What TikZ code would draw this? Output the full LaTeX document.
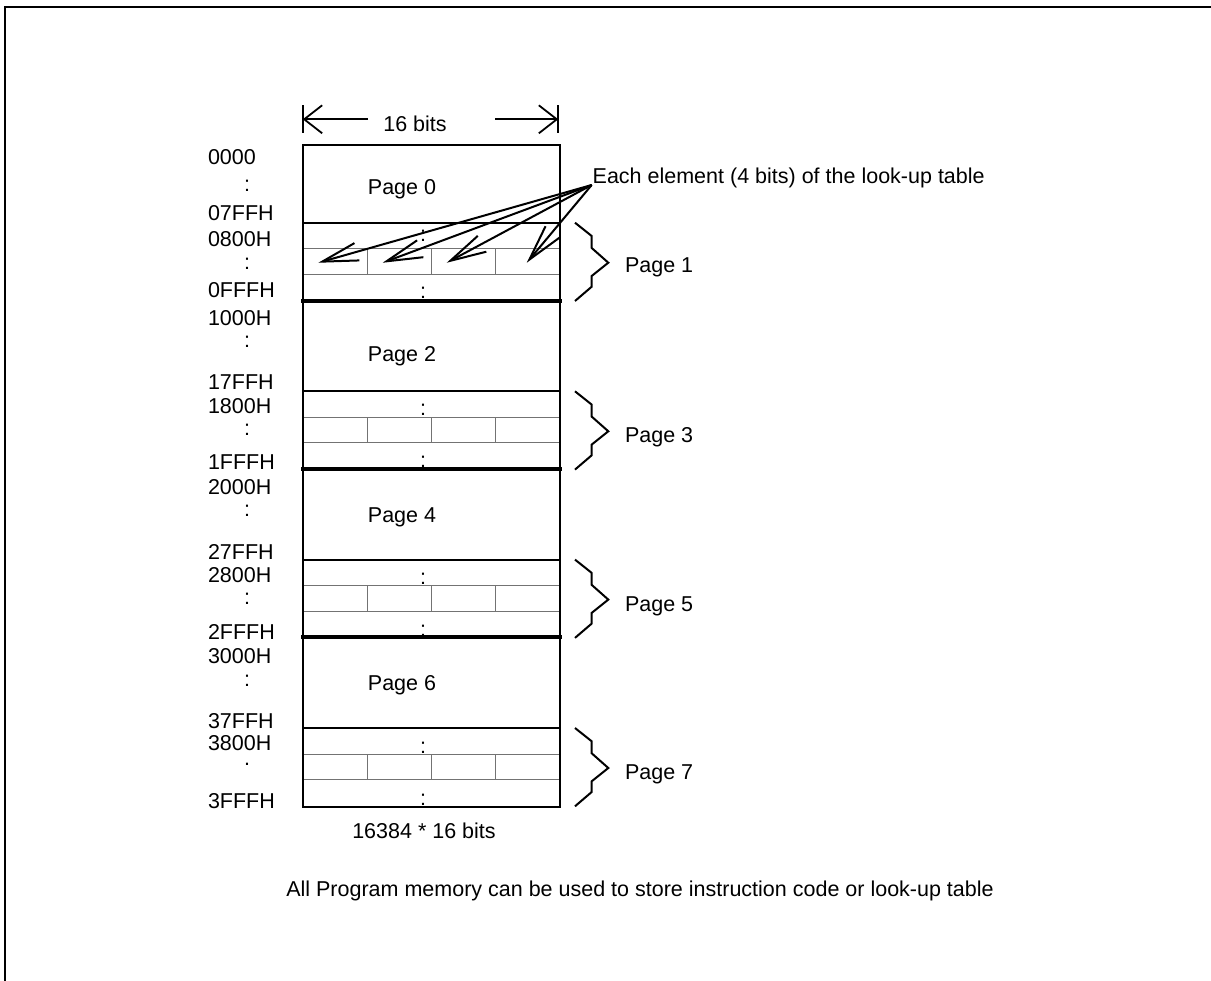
\documentclass[tikz,border=0pt]{standalone}
\usepackage{fontspec}
\setmainfont{Liberation Sans}
\usetikzlibrary{arrows.meta,calc}
\begin{document}
\begin{tikzpicture}[x=1pt,y=-1pt,
  txt/.style={font=\fontsize{21.5}{25}\selectfont, inner sep=0pt, outer sep=0pt},
  addr/.style={txt, anchor=base west},
  ctr/.style={txt, anchor=base},
  frameline/.style={line width=2pt},
  pagebox/.style={draw, line width=2pt, minimum width=257pt, anchor=north west, inner sep=0pt, outer sep=0pt},
  cell/.style={draw=black!55, line width=1pt, minimum width=64.25pt, minimum height=25.7pt, anchor=north west, inner sep=0pt, outer sep=0pt},
  heavy/.style={line width=4pt, line cap=rect},
  bar/.style={line width=2pt},
  bracepath/.style={line width=2pt, line join=miter},
  elemarrow/.style={line width=2pt, -{Straight Barb[length=36pt,width=18pt]}},
  dimarrow/.style={line width=1.8pt, -{Straight Barb[length=18pt,width=28pt]}}
]
\useasboundingbox (0,0) rectangle (1211,981);
\draw[frameline] (5,981) -- (5,6.7) -- (1211,6.7);

% element cells
\foreach \n/\t in {1/248.7, 3/417.3, 5/585.5, 7/754} {
  \foreach \k in {1,2,3,4} {
    \node[cell] (e\n\k) at ({303+(\k-1)*64.25},\t) {};
  }
}

% pages
\node[pagebox, minimum height=77.7pt] (p0) at (303,145) {};
\node[pagebox, minimum height=78pt]   (p1) at (303,222.7) {};
\node[pagebox, minimum height=90.6pt] (p2) at (303,300.7) {};
\node[pagebox, minimum height=77.7pt] (p3) at (303,391.3) {};
\node[pagebox, minimum height=90.6pt] (p4) at (303,469) {};
\node[pagebox, minimum height=77.7pt] (p5) at (303,559.6) {};
\node[pagebox, minimum height=90.7pt] (p6) at (303,637.3) {};
\node[pagebox, minimum height=78.7pt] (p7) at (303,728) {};

\draw[heavy] (p1.south west) -- (p1.south east);
\draw[heavy] (p3.south west) -- (p3.south east);
\draw[heavy] (p5.south west) -- (p5.south east);

% page labels in box
\node[ctr] (l0) at (402,195) {Page 0};
\node[ctr] (l2) at (402,362) {Page 2};
\node[ctr] (l4) at (402,522) {Page 4};
\node[ctr] (l6) at (402,690) {Page 6};

% dots in odd pages
\node[ctr] (d1a) at (423,242) {:};
\node[ctr] (d1b) at (423,299) {:};
\node[ctr] (d3a) at (423,416) {:};
\node[ctr] (d3b) at (423,468) {:};
\node[ctr] (d5a) at (423,584.5) {:};
\node[ctr] (d5b) at (423,636) {:};
\node[ctr] (d7a) at (423,753) {:};
\node[ctr] (d7b) at (423,805) {:};

% address labels
\node[addr] (a00) at (208,165) {0000};
\node[ctr]  (a01) at (247,192) {:};
\node[addr] (a02) at (208,221) {07FFH};
\node[addr] (a10) at (208,247) {0800H};
\node[ctr]  (a11) at (247,270) {:};
\node[addr] (a12) at (208,298) {0FFFH};
\node[addr] (a20) at (208,326) {1000H};
\node[ctr]  (a21) at (247,348) {:};
\node[addr] (a22) at (208,389.5) {17FFH};
\node[addr] (a30) at (208,413.5) {1800H};
\node[ctr]  (a31) at (247,435.5) {:};
\node[addr] (a32) at (208,470) {1FFFH};
\node[addr] (a40) at (208,495) {2000H};
\node[ctr]  (a41) at (247,517) {:};
\node[addr] (a42) at (208,559) {27FFH};
\node[addr] (a50) at (208,582) {2800H};
\node[ctr]  (a51) at (247,604.5) {:};
\node[addr] (a52) at (208,639) {2FFFH};
\node[addr] (a60) at (208,663) {3000H};
\node[ctr]  (a61) at (247,686) {:};
\node[addr] (a62) at (208,728) {37FFH};
\node[addr] (a70) at (208,750) {3800H};
\node[ctr]  (a71) at (247,765) {.};
\node[addr] (a72) at (208,808) {3FFFH};

% braces and right labels
\foreach \n/\lb in {1/273, 3/443, 5/611, 7/779} {
  \draw[bracepath] ([xshift=15pt]p\n.north east) -- ++(16.7,13.3) -- ++(0,12) -- ++(16.6,14.7) -- ++(-16.6,13.3) -- ++(0,10.7) -- ++(-16.7,14.3);
  \node[addr] (r\n) at (625,\lb) {Page \n};
}

% width dimension
\coordinate (dl) at (302.7,119.3);
\coordinate (dr) at (558.3,119.3);
\coordinate (dls) at (368,119.3);
\coordinate (drs) at (495,119.3);
\node[ctr] (w) at (415,132) {16 bits};
\draw[dimarrow] (dls) -- (dl);
\draw[dimarrow] (drs) -- (dr);
\draw[bar] (dl) ++(0,-14) -- ++(0,28);
\draw[bar] (dr) ++(0,-14) -- ++(0,28);

% look-up table element label and arrows
\node[addr] (lbl) at (592.7,183.3) {Each element (4 bits) of the look-up table};
\coordinate (src) at (591.7,185);
\draw[elemarrow] (src) -- ($(e11.west)+(15.3,1.2)$);
\draw[elemarrow] (src) -- ($(e12.west)+(15.4,1.2)$);
\draw[elemarrow] (src) -- ($(e13.west)+(15.2,1.2)$);
\draw[elemarrow] (src) -- ($(e14.west)+(31,1.2)$);

% bottom captions
\node[ctr] (cap1) at (424,838.3) {16384 * 16 bits};
\node[ctr] (cap2) at (640,896.5) {All Program memory can be used to store instruction code or look-up table};
\end{tikzpicture}
\end{document}
